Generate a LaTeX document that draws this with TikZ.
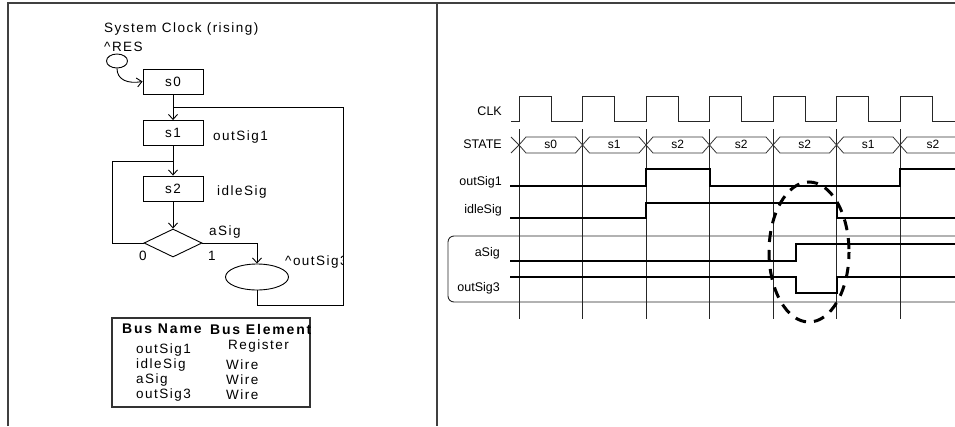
\documentclass[tikz,border=0pt]{standalone}
\usepackage{fontspec}
\setmainfont{Liberation Sans}
\newfontfamily\lsp[LetterSpace=11]{Liberation Sans}
\newfontfamily\lspb[LetterSpace=13]{Liberation Sans Bold}
\usetikzlibrary{shapes.geometric,arrows.meta}
\begin{document}
\begin{tikzpicture}[x=1pt,y=-1pt,
  frame/.style={line width=2pt,draw=black!75},
  lt/.style={inner sep=0pt,font=\lsp\fontsize{13.5}{15}\selectfont},
  ltb/.style={inner sep=0pt,font=\lspb\fontsize{14}{16}\selectfont},
  stbox/.style={draw,line width=0.9pt,minimum width=60pt,minimum height=25pt,inner sep=0pt,font=\lsp\fontsize{13.5}{15}\selectfont},
  conn/.style={line width=0.9pt},
  arr/.style={conn,-{Straight Barb[length=5pt,width=9pt]}},
  tl/.style={inner sep=0pt,anchor=east,font=\fontsize{12.5}{14}\selectfont},
  busl/.style={inner sep=0pt,font=\fontsize{12}{14}\selectfont},
  grid/.style={line width=0.9pt,draw=black!85},
  clkw/.style={line width=0.9pt,draw=black!85},
  bus/.style={line width=0.8pt,draw=black!80},
  wave/.style={line width=2pt},
]
\useasboundingbox (0,0) rectangle (955,426);
% frame
\draw[frame] (8,426) -- (8,3) -- (955,3);
\draw[frame] (437,3) -- (437,426);

% ---------------- left: state diagram ----------------
\node[lt,anchor=west] (title) at (104,29) {System Clock (rising)};
\node[lt,anchor=west] (reslbl) at (104,47) {\textasciicircum RES};
\node[draw,conn,ellipse,minimum width=21pt,minimum height=14pt,inner sep=0pt] (res) at (117,61) {};
\node[stbox] (s0) at (173,81.5) {s0};
\node[stbox] (s1) at (173,133) {s1};
\node[stbox] (s2) at (173,188.5) {s2};
\node[draw,conn,diamond,minimum width=58pt,minimum height=28pt,inner sep=0pt] (dec) at (173,243) {};
\node[draw,conn,ellipse,minimum width=63pt,minimum height=26pt,inner sep=0pt] (out3) at (257,277) {};
\coordinate (j1) at (173,107);
\coordinate (j2) at (173,161);

\node[lt,anchor=west] (o1lbl) at (213,137) {outSig1};
\node[lt,anchor=west] (idlbl) at (217,192) {idleSig};
\node[lt,anchor=west] (alb) at (209,232) {aSig};
\node[lt] (zero) at (143,256) {0};
\node[lt] (one) at (212,256) {1};
\begin{scope}
  \clip (280,250) rectangle (342,275);
  \node[lt,anchor=west] (o3lbl) at (285,262) {\textasciicircum outSig3};
\end{scope}

\draw[arr] (res.south) .. controls (117,80) and (128,84) .. (s0.west);
\draw[arr] (s0.south) -- (s1.north);
\draw[arr] (s1.south) -- (s2.north);
\draw[arr] (s2.south) -- (dec.north);
\draw[arr] (dec.east) -| (out3.north);
\draw[conn] (dec.west) -- (112,243) |- (j2);
\draw[conn] (out3.south) -- ++(0,15) -| (343,107) -- (j1);

% table
\node[draw,line width=1.2pt,draw=black!80,minimum width=198pt,minimum height=89pt,inner sep=0pt] (tab) at (211,362.5) {};
\begin{scope}
  \clip (tab.south west) rectangle (tab.north east);
  \node[ltb,anchor=west] (h1) at (122,329) {Bus Name};
  \node[ltb,anchor=west] (h2) at (210,329) {Bus Element};
\end{scope}
\node[lt,anchor=west] (r1a) at (136,350) {outSig1};
\node[lt,anchor=west] (r2a) at (136,365) {idleSig};
\node[lt,anchor=west] (r3a) at (136,380) {aSig};
\node[lt,anchor=west] (r4a) at (136,395) {outSig3};
\node[lt,anchor=west] (r1b) at (228,346) {Register};
\node[lt,anchor=west] (r2b) at (226,365) {Wire};
\node[lt,anchor=west] (r3b) at (226,380) {Wire};
\node[lt,anchor=west] (r4b) at (226,395) {Wire};

% ---------------- right: timing diagram ----------------
\node[tl] (lclk) at (502,111) {CLK};
\node[tl] (lstate) at (502,144) {STATE};
\node[tl] (lo1) at (502,182) {outSig1};
\node[tl] (lid) at (502,210) {idleSig};
\node[tl] (la) at (500,253) {aSig};
\node[tl] (lo3) at (500,288) {outSig3};

% grid
\foreach \x in {519,582.5,646,709.5,773,836.5,900}
  \draw[grid] (\x,129) -- (\x,319);

% clock
\draw[clkw] (511,121) -- (519,121) -- (519,96) -- (551,96) -- (551,121)
  -- (582.5,121) -- (582.5,96) -- (614,96) -- (614,121)
  -- (646,121) -- (646,96) -- (678,96) -- (678,121)
  -- (709.5,121) -- (709.5,96) -- (741,96) -- (741,121)
  -- (773,121) -- (773,96) -- (805,96) -- (805,121)
  -- (836.5,121) -- (836.5,96) -- (868,96) -- (868,121)
  -- (900,121) -- (900,96) -- (932,96) -- (932,121) -- (955,121);

% state bus
\draw[bus] (511,137) -- (519,145) -- (511,153);
\foreach \a/\b/\t in {519/582.5/s0,582.5/646/s1,646/709.5/s2,709.5/773/s2,773/836.5/s2,836.5/900/s1}{
  \draw[bus] (\a,145) -- (\a+7,137) -- (\b-7,137) -- (\b,145) -- (\b-7,153) -- (\a+7,153) -- cycle;
  \node[busl] at ({(\a+\b)/2},144) {\t};
}
\draw[bus] (955,137) -- (907,137) -- (900,145) -- (907,153) -- (955,153);
\node[busl] at (933,144) {s2};

% group bracket
\draw[line width=0.9pt,draw=black!85,rounded corners=6pt] (955,236) -- (448,236) -- (448,302) -- (955,302);

% waveforms
\draw[wave] (510,186) -- (646,186) -- (646,169) -- (709.5,169) -- (709.5,186) -- (900,186) -- (900,169) -- (955,169);
\draw[wave] (510,218) -- (646,218) -- (646,203) -- (837,203) -- (837,218) -- (955,218);
\draw[wave] (510,261) -- (796,261) -- (796,244) -- (955,244);
\draw[wave] (510,277) -- (796,277) -- (796,293) -- (837,293) -- (837,277) -- (955,277);

% highlight
\draw[line width=3pt,dash pattern=on 11pt off 8pt,dash phase=4pt] (809,252) ellipse [x radius=40, y radius=70];
\end{tikzpicture}
\end{document}
